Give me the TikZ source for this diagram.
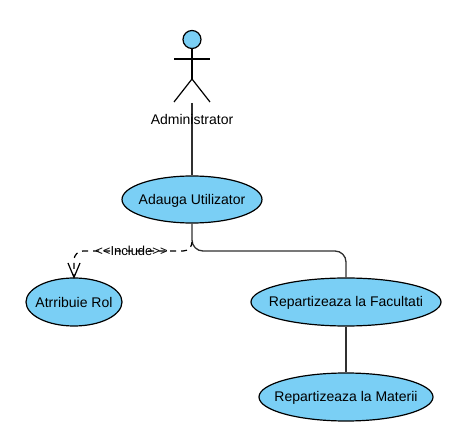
\documentclass[tikz,border=0pt]{standalone}
\usepackage{fontspec}
\setmainfont{Liberation Sans}
\usetikzlibrary{shapes.geometric,arrows.meta}
\definecolor{ucfill}{HTML}{7ACFF5}
\definecolor{lineg}{HTML}{303030}
\tikzset{
  x=1pt,y=-1pt,
  usecase/.style={ellipse,draw=black,fill=ucfill,line width=1.2pt,inner sep=0pt},
  uctext/.style={inner sep=0pt,font=\fontsize{14}{16}\selectfont},
  actorline/.style={draw=black,line width=1.2pt},
  link/.style={draw=lineg,line width=1.3pt,rounded corners=11pt},
  inc/.style={draw=black,line width=1.2pt,dash pattern=on 6pt off 5pt},
  opentip/.style={draw=black,line width=1.2pt},
  inclabel/.style={inner sep=0pt,font=\fontsize{13}{15}\selectfont}
}
\begin{document}
\begin{tikzpicture}
\useasboundingbox (0,0) rectangle (474,446);
% actor
\coordinate (neck) at (192,48);
\coordinate (hip) at (192,79);
\coordinate (armL) at (174,59);
\coordinate (armR) at (210,59);
\coordinate (legL) at (174,102);
\coordinate (legR) at (210,102);
\coordinate (actorFoot) at (192,103);
\draw[actorline] (neck) -- (hip);
\draw[actorline] (armL) -- (armR);
\draw[actorline] (legL) -- (hip) -- (legR);
\node[circle,draw=black,fill=ucfill,line width=1.2pt,minimum size=18pt,inner sep=0pt] (head) at (192,39.5) {};
% use cases
\node[usecase,minimum width=140pt,minimum height=47pt] (adauga) at (192,199.5) {};
\node[usecase,minimum width=96pt,minimum height=48pt] (rol) at (74,302) {};
\node[usecase,minimum width=190pt,minimum height=48pt] (fac) at (346,302) {};
\node[usecase,minimum width=174pt,minimum height=48pt] (mat) at (346,397) {};
\node[uctext] (adaugaT) at (192,200.5) {Adauga Utilizator};
\node[uctext] (rolT) at (74,302.5) {Atrribuie Rol};
\node[uctext] (facT) at (346,302.5) {Repartizeaza la Facultati};
\node[uctext] (matT) at (346,397.5) {Repartizeaza la Materii};
% connectors
\draw[link] (actorFoot) -- (adauga.north);
\coordinate (split) at (192,243);
\draw[link] (adauga.south) -- (192,251) -- (346,251) -- (fac.north);
\draw[link] (fac.south) -- (mat.north);
\draw[inc,rounded corners=9pt] (split) -- (192,251) -- (74,251) -- (rol.north);
\coordinate (barbL) at (68,263);
\coordinate (barbR) at (80,263);
\draw[opentip] (barbL) -- (rol.north) -- (barbR);
\node[inclabel] (incl) at (131.5,251) {<{}<Include>{}>};
\node[uctext] (admin) at (192,119) {Administrator};
\end{tikzpicture}
\end{document}
